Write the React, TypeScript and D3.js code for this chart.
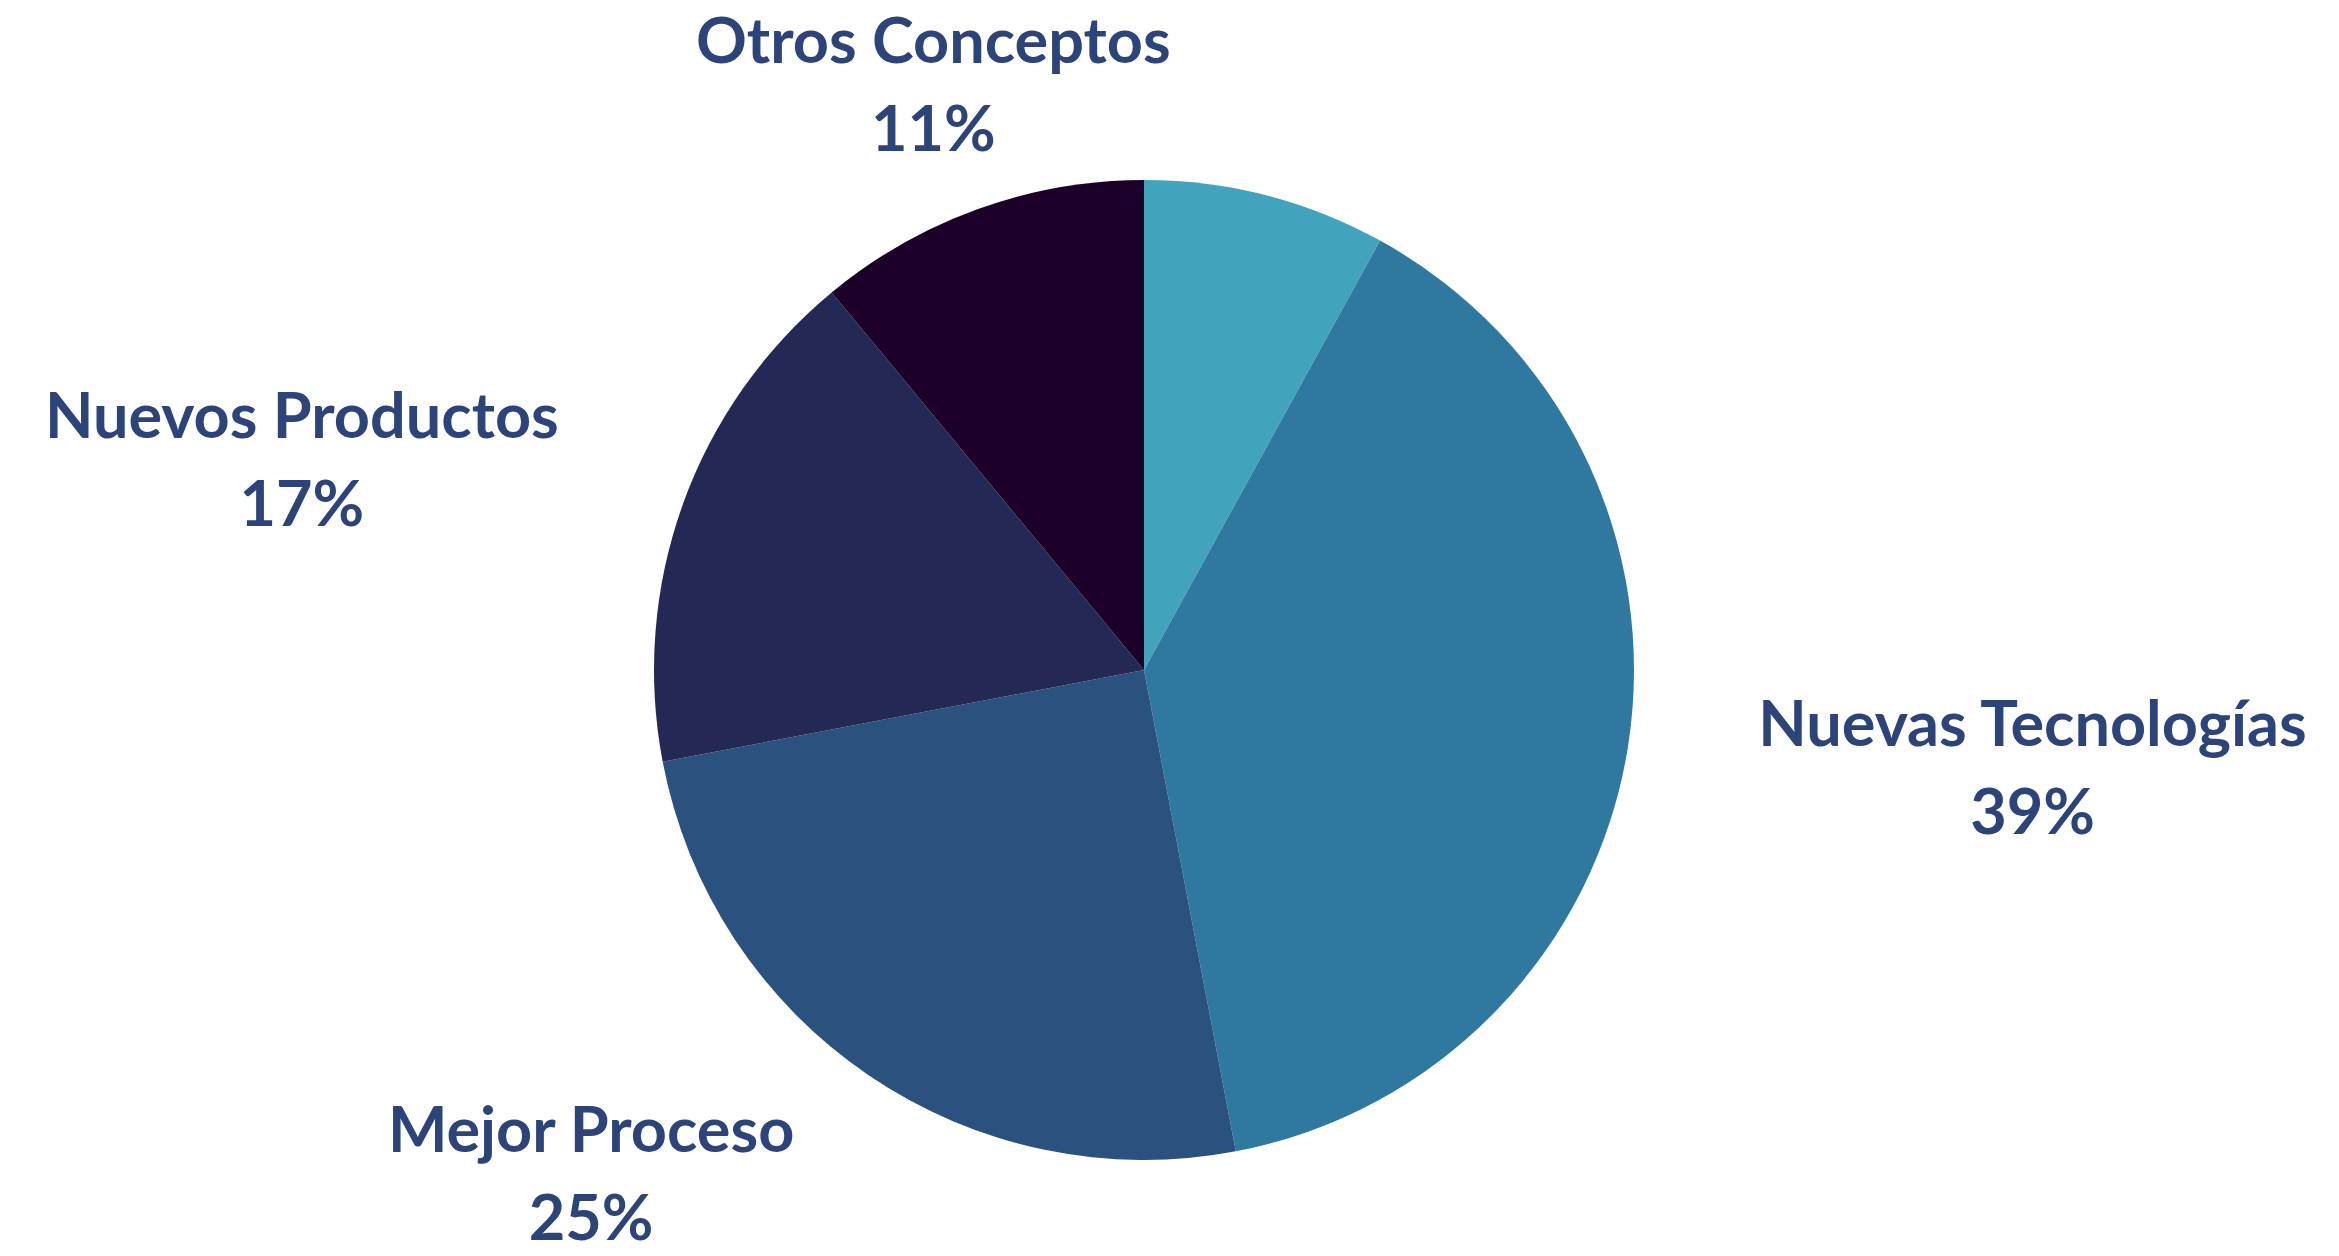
import { useEffect, useRef } from "react";
import * as d3 from "d3";

// slices clockwise from 12 o'clock; the first (teal) slice carries no label
const categories = ["", "Nuevas Tecnologías", "Mejor Proceso", "Nuevos Productos", "Otros Conceptos"];
const values = [8, 39, 25, 17, 11];
const colors = ["#41A4BC", "#2F79A0", "#2B517E", "#242855", "#1C0029"];

const WIDTH = 2339;
const HEIGHT = 1256;

export default function App() {
  const ref = useRef<SVGSVGElement | null>(null);

  useEffect(() => {
    if (!ref.current) return;
    const svg = d3.select(ref.current);
    svg.selectAll("*").remove();

    const cx = 1144;
    const cy = 670;
    const radius = 490;
    const labelR = 622;
    const fontSize = 63;
    const lineGap = 88;
    const capH = 45;

    const pie = d3
      .pie<number>()
      .sort(null)
      .value((d) => d);
    const arcs = pie(values);

    const arc = d3.arc<d3.PieArcDatum<number>>().innerRadius(0).outerRadius(radius);

    const g = svg.append("g").attr("transform", `translate(${cx},${cy})`);

    g.selectAll("path")
      .data(arcs)
      .join("path")
      .attr("d", arc)
      .attr("fill", (_, i) => colors[i]);

    // labels: outside the pie, along the slice's middle angle
    arcs.forEach((d, i) => {
      if (!categories[i]) return;
      const mid = (d.startAngle + d.endAngle) / 2;
      const s = Math.sin(mid);
      const ax = cx + labelR * s;
      const ay = cy - labelR * Math.cos(mid);

      const lg = svg.append("g");
      const t = lg
        .append("text")
        .attr("text-anchor", "middle")
        .attr("font-family", "Lato, 'Noto Sans', sans-serif")
        .attr("font-weight", 700)
        .attr("font-size", fontSize)
        .attr("fill", "#2C4479");
      t.append("tspan").attr("x", 0).attr("y", 0).text(categories[i]);
      t.append("tspan").attr("x", 0).attr("y", lineGap).text(`${values[i]}%`);

      const w = (t.node() as SVGTextElement).getBBox().width;
      let x = ax;
      if (s > 0.5) x = ax + w / 2;
      else if (s < -0.5) x = ax - w / 2;
      // keep the lower block inside the picture
      const y = Math.min(ay - (lineGap - capH) / 2, HEIGHT - lineGap - 16);
      lg.attr("transform", `translate(${x},${y})`);
    });
  }, []);

  return (
    <svg
      ref={ref}
      width={WIDTH}
      height={HEIGHT}
      style={{ position: "absolute", left: 0, top: 0, background: "#fff" }}
    />
  );
}
